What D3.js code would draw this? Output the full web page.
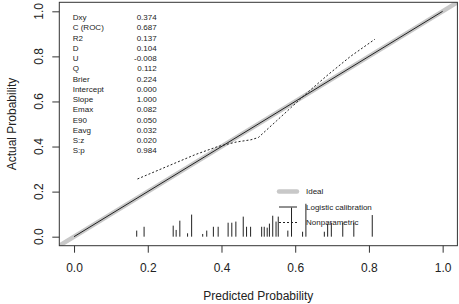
<!DOCTYPE html>
<html>
<head>
<meta charset="utf-8">
<script src="https://cdn.jsdelivr.net/npm/d3@7"></script>
<style>
  body { margin: 0; background: #fff; }
  svg { display: block; font-family: "Liberation Sans", Arial, sans-serif; }
</style>
</head>
<body>
<div id="chart"></div>
<script>
// Calibration stats shown top-left
const statNames = ["Dxy", "C (ROC)", "R2", "D", "U", "Q", "Brier", "Intercept", "Slope", "Emax", "E90", "Eavg", "S:z", "S:p"];
const statValues = ["0.374", "0.687", "0.137", "0.104", "-0.008", "0.112", "0.224", "0.000", "1.000", "0.082", "0.050", "0.032", "0.020", "0.984"];

// Ideal line and logistic calibration (intercept 0, slope 1)
const idealLine = [[-0.04, -0.04], [1.04, 1.04]];
const logisticLine = [[0, 0], [1, 1]];

// Nonparametric (lowess) curve
const nonparX = [0.172, 0.25, 0.33, 0.39, 0.44, 0.48, 0.50, 0.55, 0.59, 0.63, 0.69, 0.75, 0.816];
const nonparY = [0.256, 0.31, 0.365, 0.40, 0.42, 0.43, 0.44, 0.515, 0.575, 0.635, 0.72, 0.80, 0.876];

// Spike histogram of predicted probabilities
const spikeX = [0.170, 0.190, 0.269, 0.277, 0.287, 0.308, 0.319, 0.349, 0.360, 0.378, 0.391, 0.418, 0.428, 0.439,
  0.459, 0.468, 0.479, 0.509, 0.516, 0.524, 0.530, 0.539, 0.548, 0.554, 0.580, 0.590, 0.620, 0.629,
  0.679, 0.688, 0.698, 0.729, 0.759, 0.809];
const spikeH = [0.027, 0.044, 0.049, 0.030, 0.071, 0.015, 0.098, 0.012, 0.027, 0.044, 0.044, 0.062, 0.062, 0.067,
  0.089, 0.044, 0.044, 0.044, 0.044, 0.040, 0.058, 0.093, 0.067, 0.089, 0.027, 0.129, 0.022, 0.146,
  0.022, 0.058, 0.062, 0.062, 0.062, 0.096];

const ticks = [0, 0.2, 0.4, 0.6, 0.8, 1.0];
const legendLabels = ["Ideal", "Logistic calibration", "Nonparametric"];

const width = 459;
const height = 304;
const plotLeft = 59.3, plotRight = 457.4, plotTop = 2.3, plotBottom = 245.7;

const x = d3.scaleLinear().domain([-0.04, 1.04]).range([plotLeft, plotRight]);
const y = d3.scaleLinear().domain([-0.04, 1.04]).range([plotBottom, plotTop]);

const svg = d3.create("svg")
    .attr("width", width)
    .attr("height", height)
    .attr("viewBox", [0, 0, width, height]);

const line = d3.line().x(d => x(d[0])).y(d => y(d[1]));

// clip to plot region
svg.append("clipPath").attr("id", "plotclip")
  .append("rect")
    .attr("x", plotLeft).attr("y", plotTop)
    .attr("width", plotRight - plotLeft).attr("height", plotBottom - plotTop);

const plot = svg.append("g").attr("clip-path", "url(#plotclip)");

// Ideal (thick grey)
plot.append("path")
    .attr("d", line(idealLine))
    .attr("fill", "none")
    .attr("stroke", "#c8c8c8")
    .attr("stroke-width", 4.5);

// Logistic calibration
plot.append("path")
    .attr("d", line(logisticLine))
    .attr("fill", "none")
    .attr("stroke", "#222")
    .attr("stroke-width", 1);

// Nonparametric
plot.append("path")
    .attr("d", line(nonparX.map((v, i) => [v, nonparY[i]])))
    .attr("fill", "none")
    .attr("stroke", "#222")
    .attr("stroke-width", 1)
    .attr("stroke-dasharray", "2,2");

// Spikes
plot.selectAll(".spike")
  .data(spikeX)
  .join("line")
    .attr("class", "spike")
    .attr("x1", d => x(d))
    .attr("x2", d => x(d))
    .attr("y1", y(0))
    .attr("y2", (d, i) => y(spikeH[i]))
    .attr("stroke", "#222")
    .attr("stroke-width", 1);

// Box
svg.append("rect")
    .attr("x", plotLeft).attr("y", plotTop)
    .attr("width", plotRight - plotLeft).attr("height", plotBottom - plotTop)
    .attr("fill", "none")
    .attr("stroke", "#333")
    .attr("stroke-width", 1);

// x-axis
const xAxis = svg.append("g")
    .attr("transform", `translate(0,${plotBottom})`)
    .call(d3.axisBottom(x).tickValues(ticks).tickFormat(d3.format(".1f")).tickSize(7).tickPadding(11));
xAxis.select(".domain").remove();
xAxis.selectAll("line").attr("stroke", "#333");
xAxis.selectAll("text").attr("font-size", 12).attr("fill", "#222")
    .attr("font-family", "Liberation Sans, Arial, sans-serif");

// y-axis
const yAxis = svg.append("g")
    .attr("transform", `translate(${plotLeft},0)`)
    .call(d3.axisLeft(y).tickValues(ticks).tickFormat("").tickSize(7));
yAxis.select(".domain").remove();
yAxis.selectAll("line").attr("stroke", "#333");

svg.append("g").selectAll("text")
  .data(ticks)
  .join("text")
    .attr("transform", d => `translate(43.3,${y(d)}) rotate(-90)`)
    .attr("text-anchor", "middle")
    .attr("font-size", 12)
    .attr("fill", "#222")
    .text(d => d3.format(".1f")(d));

// Axis titles
svg.append("text")
    .attr("x", (plotLeft + plotRight) / 2)
    .attr("y", 300)
    .attr("text-anchor", "middle")
    .attr("font-size", 12)
    .attr("fill", "#222")
    .text("Predicted Probability");

svg.append("text")
    .attr("transform", `translate(16,${(plotTop + plotBottom) / 2}) rotate(-90)`)
    .attr("text-anchor", "middle")
    .attr("font-size", 12)
    .attr("fill", "#222")
    .text("Actual Probability");

// Stats block
const stats = svg.append("g").attr("font-size", 8).attr("fill", "#222");
stats.selectAll(".sname")
  .data(statNames)
  .join("text")
    .attr("class", "sname")
    .attr("x", 72.7)
    .attr("y", (d, i) => 20.2 + i * 10.23)
    .text(d => d);
stats.selectAll(".sval")
  .data(statValues)
  .join("text")
    .attr("class", "sval")
    .attr("x", 156.7)
    .attr("y", (d, i) => 20.2 + i * 10.23)
    .attr("text-anchor", "end")
    .text(d => d);

// Legend
const legendY = [191.5, 207, 222.5];
const legend = svg.append("g");
legend.append("line")
    .attr("x1", 279).attr("x2", 297).attr("y1", legendY[0]).attr("y2", legendY[0])
    .attr("stroke", "#c8c8c8").attr("stroke-width", 4.5).attr("stroke-linecap", "round");
legend.append("line")
    .attr("x1", 279).attr("x2", 297).attr("y1", legendY[1]).attr("y2", legendY[1])
    .attr("stroke", "#222").attr("stroke-width", 1);
legend.append("line")
    .attr("x1", 279).attr("x2", 297).attr("y1", legendY[2]).attr("y2", legendY[2])
    .attr("stroke", "#222").attr("stroke-width", 1).attr("stroke-dasharray", "2,2");
legend.selectAll("text")
  .data(legendLabels)
  .join("text")
    .attr("x", 306)
    .attr("y", (d, i) => legendY[i] + 2.9)
    .attr("font-size", 8)
    .attr("fill", "#222")
    .text(d => d);

document.getElementById("chart").appendChild(svg.node());
</script>
</body>
</html>
